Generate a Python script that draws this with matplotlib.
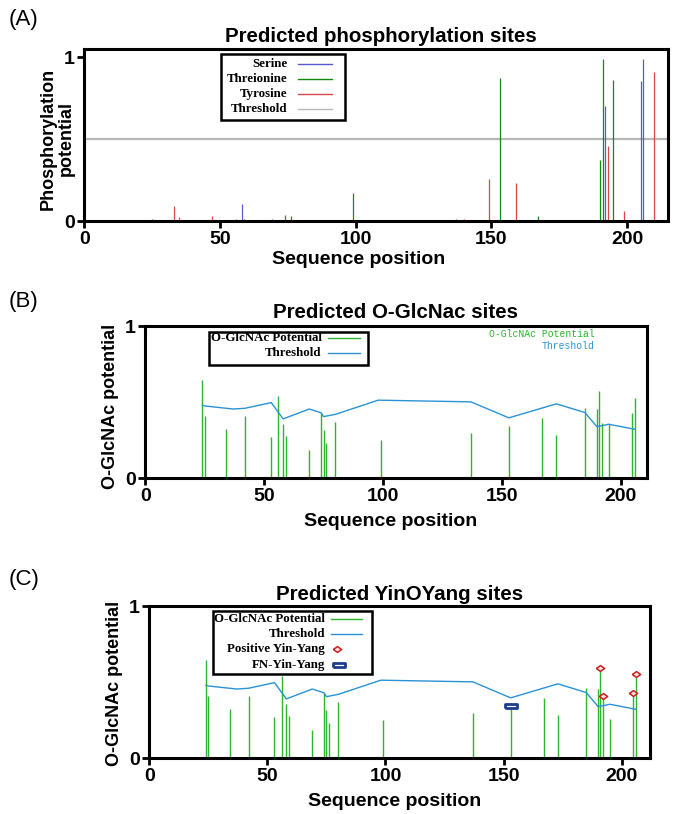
import numpy as np
import matplotlib
matplotlib.use("Agg")
import matplotlib.pyplot as plt
from matplotlib.patches import Rectangle
from matplotlib.path import Path

# --- data: panel A, phosphorylation potentials ---
ser_pos = [56, 58, 69, 74, 192, 205, 206]
ser_val = [0.01, 0.105, 0.01, 0.038, 0.70, 0.855, 0.99]
thr_pos = [25, 59, 76, 99, 137, 153, 167, 190, 191, 195]
thr_val = [0.012, 0.01, 0.03, 0.17, 0.01, 0.874, 0.03, 0.37, 0.99, 0.86]
tyr_pos = [33, 35, 47, 140, 149, 159, 193, 199, 210]
tyr_val = [0.093, 0.026, 0.032, 0.012, 0.256, 0.23, 0.46, 0.06, 0.91]
phos_threshold = 0.5

# --- data: panel B, O-GlcNAc potentials ---
glc_pos = [24, 25, 34, 42, 53, 56, 58, 59, 69, 74, 75, 76, 80, 99, 137,
           153, 167, 173, 185, 190, 191, 192, 195, 205, 206]
glc_val = [0.647, 0.41, 0.325, 0.41, 0.27, 0.54, 0.357, 0.278, 0.186, 0.427,
           0.318, 0.234, 0.37, 0.252, 0.298, 0.344, 0.397, 0.285, 0.463,
           0.456, 0.575, 0.362, 0.355, 0.43, 0.528]
thr_line_pos = [24, 25, 37, 42, 53, 58, 69, 74, 75, 80, 98, 137, 153, 173,
                185, 190, 192, 195, 206]
thr_line_val = [0.48, 0.475, 0.455, 0.46, 0.497, 0.39, 0.455, 0.43, 0.405,
                0.42, 0.513, 0.502, 0.397, 0.489, 0.432, 0.34, 0.345, 0.355,
                0.322]

# --- data: panel C, YinOYang ---
yy_val = [0.647, 0.41, 0.325, 0.41, 0.27, 0.54, 0.357, 0.278, 0.186, 0.427,
          0.318, 0.234, 0.37, 0.252, 0.298, 0.344, 0.396, 0.284, 0.46,
          0.455, 0.593, 0.41, 0.258, 0.427, 0.555]
pos_yy_pos = [191, 192, 205, 206]
pos_yy_val = [0.593, 0.41, 0.427, 0.555]
fn_yy_pos = [153]
fn_yy_val = [0.344]

SANS = "Liberation Sans"
SERIF = "Liberation Serif"
MONO = "Liberation Mono"

c_ser = "#5a5ad0"
c_thr = "#108a10"
c_tyr = "#d84848"
c_gray = "#b8b8b8"
c_glc = "#2db52d"
c_thl = "#2a93d5"
c_red = "#cc2020"
c_fn = "#1c3c8c"

fn_marker = Path([(-1, -0.4), (1, -0.4), (1, 0.4), (-1, 0.4), (-1, -0.4)])
pos_marker = Path([(-1, 0), (0, 0.7), (1, 0), (0, -0.7), (-1, 0)])

fig = plt.figure(figsize=(6.8, 8.14), dpi=100)
ax_a = fig.add_axes([0.124, 0.7285, 0.858, 0.2113])
ax_b = fig.add_axes([0.2137, 0.4124, 0.7373, 0.1871])
ax_c = fig.add_axes([0.2196, 0.0684, 0.7363, 0.1871])


def style(ax, xmax, ymax):
    ax.set_xlim(0, xmax)
    ax.set_ylim(0, ymax)
    ax.set_xticks([0, 50, 100, 150, 200])
    ax.set_yticks([0, 1])
    for s in ax.spines.values():
        s.set_linewidth(2.2)
    ax.tick_params(direction="out", length=5, width=2, pad=2, labelsize=14)
    for lab in ax.get_xticklabels() + ax.get_yticklabels():
        lab.set_fontweight("bold")
        lab.set_fontfamily(SANS)


def legend_box(ax, x0, x1, y0, y1, rows, text_x, l0, l1):
    ax.add_patch(Rectangle((x0, y0), x1 - x0, y1 - y0, transform=ax.transAxes,
                           facecolor="white", edgecolor="black", lw=1.8,
                           zorder=6, clip_on=False))
    for y, label, kind, col in rows:
        ax.text(text_x, y, label, transform=ax.transAxes, ha="right",
                va="center", fontsize=9.3, fontweight="bold", family=SERIF,
                zorder=7)
        if kind == "line":
            ax.plot([l0, l1], [y, y], color=col, lw=1, transform=ax.transAxes,
                    zorder=7, clip_on=False)
        elif kind == "pos":
            ax.plot([l0 + 0.012], [y], marker=pos_marker, ms=6, mfc="#ffe0e0",
                    mec=col, mew=1.1, transform=ax.transAxes, zorder=7,
                    clip_on=False)
        else:
            ax.plot([l0 + 0.016], [y], marker=fn_marker, ms=8, mfc="white",
                    mec=col, mew=2, transform=ax.transAxes, zorder=7,
                    clip_on=False)


# ---- (A) ----
ax = ax_a
ax.axhline(phos_threshold, color=c_gray, lw=1.6, zorder=1)
ax.vlines(ser_pos, 0, ser_val, color=c_ser, lw=0.9, zorder=2)
ax.vlines(thr_pos, 0, thr_val, color=c_thr, lw=0.9, zorder=2)
ax.vlines(tyr_pos, 0, tyr_val, color=c_tyr, lw=0.9, zorder=2)
style(ax, 215, 1.05)
ax.set_title("Predicted phosphorylation sites", fontsize=14.8,
             fontweight="bold", family=SANS, pad=5, x=0.508)
ax.set_xlabel("Sequence position", fontsize=14, fontweight="bold", family=SANS)
ax.xaxis.set_label_coords(0.47, -0.175)
ax.set_ylabel("Phosphorylation\npotential", fontsize=13, fontweight="bold",
              family=SANS, linespacing=1.1)
ax.yaxis.set_label_coords(-0.016, 0.48)
legend_box(ax, 0.235, 0.447, 0.587, 0.969,
           [(0.913, "Serine", "line", c_ser),
            (0.826, "Threionine", "line", c_thr),
            (0.738, "Tyrosine", "line", c_tyr),
            (0.651, "Threshold", "line", c_gray)],
           0.348, 0.367, 0.424)

# ---- (B) ----
ax = ax_b
ax.vlines(glc_pos, 0, glc_val, color=c_glc, lw=1, zorder=2)
ax.plot(thr_line_pos, thr_line_val, color=c_thl, lw=1, zorder=3)
style(ax, 211, 1.0)
ax.set_title("Predicted O-GlcNac sites", fontsize=14.8, fontweight="bold",
             family=SANS, pad=6)
ax.set_xlabel("Sequence position", fontsize=14, fontweight="bold", family=SANS)
ax.xaxis.set_label_coords(0.49, -0.225)
ax.set_ylabel("O-GlcNAc potential", fontsize=13, fontweight="bold", family=SANS)
ax.yaxis.set_label_coords(-0.052, 0.47)
legend_box(ax, 0.127, 0.444, 0.744, 0.961,
           [(0.919, "O-GlcNAc Potential", "line", c_glc),
            (0.821, "Threshold", "line", c_thl)],
           0.352, 0.364, 0.428)
ax.text(0.896, 0.945, "O-GlcNAc Potential", transform=ax.transAxes,
        ha="right", va="center", fontsize=7, family=MONO, color=c_glc)
ax.text(0.896, 0.867, "Threshold", transform=ax.transAxes, ha="right",
        va="center", fontsize=7, family=MONO, color=c_thl)

# ---- (C) ----
ax = ax_c
ax.vlines(glc_pos, 0, yy_val, color=c_glc, lw=1, zorder=2)
ax.plot(thr_line_pos, thr_line_val, color=c_thl, lw=1, zorder=3)
ax.plot(pos_yy_pos, pos_yy_val, ls="none", marker=pos_marker, ms=6,
        mfc="#ffe0e0", mec=c_red, mew=1.1, zorder=4)
ax.plot(fn_yy_pos, fn_yy_val, ls="none", marker=fn_marker, ms=8,
        mfc="white", mec=c_fn, mew=2, zorder=4)
style(ax, 212, 1.0)
ax.set_title("Predicted YinOYang sites", fontsize=14.8, fontweight="bold",
             family=SANS, pad=4)
ax.set_xlabel("Sequence position", fontsize=14, fontweight="bold", family=SANS)
ax.xaxis.set_label_coords(0.49, -0.225)
ax.set_ylabel("O-GlcNAc potential", fontsize=13, fontweight="bold", family=SANS)
ax.yaxis.set_label_coords(-0.052, 0.49)
legend_box(ax, 0.127, 0.445, 0.553, 0.967,
           [(0.915, "O-GlcNAc Potential", "line", c_glc),
            (0.816, "Threshold", "line", c_thl),
            (0.716, "Positive Yin-Yang", "pos", c_red),
            (0.613, "FN-Yin-Yang", "fn", c_fn)],
           0.351, 0.362, 0.425)

fig.text(0.012, 1 - 20 / 814, "(A)", fontsize=16, family=SANS, va="center")
fig.text(0.012, 1 - 302 / 814, "(B)", fontsize=16, family=SANS, va="center")
fig.text(0.012, 1 - 580 / 814, "(C)", fontsize=16, family=SANS, va="center")

fig.savefig("out.png", dpi=100)
